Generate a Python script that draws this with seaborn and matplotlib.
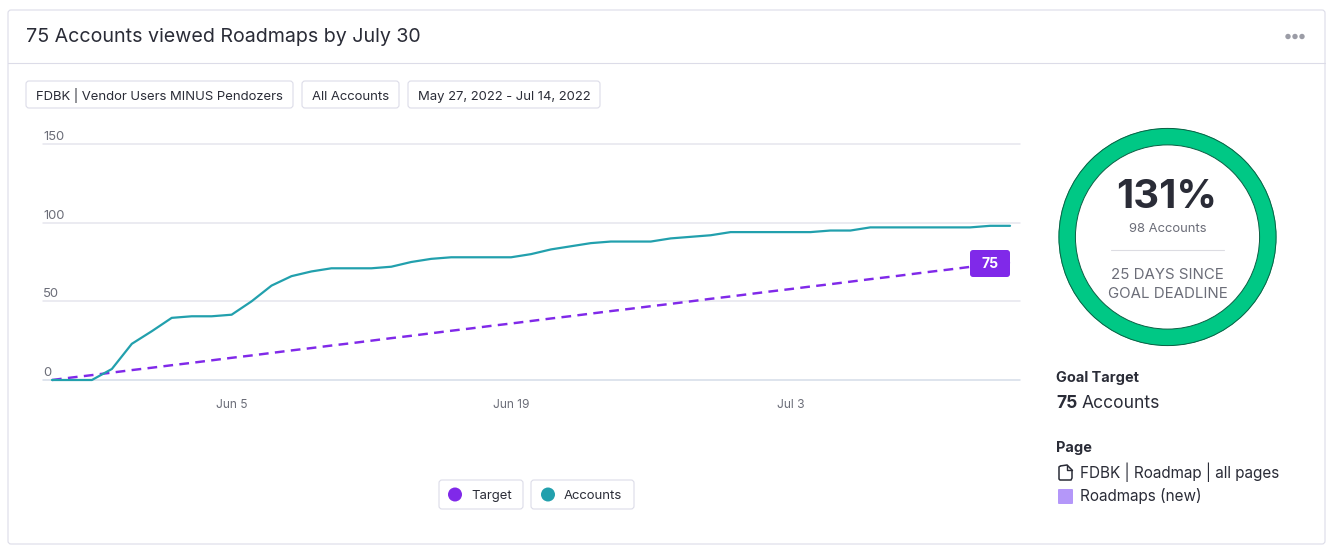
import matplotlib
matplotlib.use("Agg")
import matplotlib.pyplot as plt
import matplotlib.transforms as mtrans
from matplotlib.patches import FancyBboxPatch, Circle, PathPatch
from matplotlib.path import Path
import pandas as pd
import seaborn as sns

dates = pd.date_range("2022-05-27", "2022-07-14", freq="D")
accounts = [0, 0, 0, 7, 23, 31, 39.5, 40.5, 40.5, 41.5,
            50, 60, 66, 69, 71, 71, 71, 72, 75, 77,
            78, 78, 78, 78, 80, 83, 85, 87, 88, 88,
            88, 90, 91, 92, 94, 94, 94, 94, 94, 95,
            95, 97, 97, 97, 97, 97, 97, 98, 98]
target = [0, 1.6, 3.1, 4.7, 6.3, 7.8, 9.4, 10.9, 12.5, 14.1,
          15.6, 17.2, 18.8, 20.3, 21.9, 23.4, 25.0, 26.6, 28.1, 29.7,
          31.3, 32.8, 34.4, 35.9, 37.5, 39.1, 40.6, 42.2, 43.8, 45.3,
          46.9, 48.4, 50.0, 51.6, 53.1, 54.7, 56.3, 57.8, 59.4, 60.9,
          62.5, 64.1, 65.6, 67.2, 68.8, 70.3, 71.9, 73.4, 75.0]
y_ticks = [0, 50, 100, 150]
x_tick_dates = ["2022-06-05", "2022-06-19", "2022-07-03"]
x_tick_labels = ["Jun 5", "Jun 19", "Jul 3"]
goal_badge = 75
ring_share = [100]

W, H = 1339, 557
DARK = "#2a2c37"
GREY = "#6b6d78"
BORDER = "#dcdce8"
PURPLE = "#8029e9"
TEAL = "#22a0ad"
GREEN = "#00c885"

sns.set_theme(style="white")
plt.rcParams["font.family"] = ["Inter", "DejaVu Sans"]


def px(v):
    return v * 0.72


fig = plt.figure(figsize=(W / 100, H / 100), dpi=100, facecolor="white")

bg = fig.add_axes([0, 0, 1, 1], zorder=0)
bg.set_xlim(0, W)
bg.set_ylim(H, 0)
bg.axis("off")


def pill(x0, y0, x1, y1, ec=BORDER, fc="white", r=3, lw=0.8, zorder=1):
    bg.add_patch(FancyBboxPatch((x0 + r, y0 + r), x1 - x0 - 2 * r, y1 - y0 - 2 * r,
                                boxstyle=f"round,pad={r},rounding_size={r}",
                                fc=fc, ec=ec, lw=lw, zorder=zorder))


pill(8, 10, 1325, 544)
bg.plot([8, 1325], [62.5, 62.5], color=BORDER, lw=0.8)
bg.text(26, 37.5, "75 Accounts viewed Roadmaps by July 30", fontsize=px(19.65), color=DARK,
        va="center", ha="left")
for cx in (1288, 1295, 1302):
    bg.add_patch(Circle((cx, 36.5), 2.7, fc="#9b9ca6", ec="none"))

for x0, x1, label in [(26, 293, "FDBK | Vendor Users MINUS Pendozers"),
                      (302, 399, "All Accounts"),
                      (408, 600, "May 27, 2022 - Jul 14, 2022")]:
    pill(x0, 81, x1, 108)
    bg.text((x0 + x1) / 2, 100, label, fontsize=px(13.1), color=DARK, va="baseline", ha="center")

# legend pills
pill(439, 480, 523, 509)
bg.add_patch(Circle((455, 494.5), 7, fc=PURPLE, ec="none", zorder=2))
bg.text(471, 499, "Target", fontsize=px(13.1), color=DARK, va="baseline")
pill(531, 480, 634, 509)
bg.add_patch(Circle((548, 494.5), 7, fc=TEAL, ec="none", zorder=2))
bg.text(564, 499, "Accounts", fontsize=px(13.1), color=DARK, va="baseline")

# line chart
ax = fig.add_axes([43 / W, 1 - 380 / H, (1020 - 43) / W, (380 - 144) / H], zorder=1)
ax.patch.set_alpha(0)
df = pd.DataFrame({"date": dates, "Target": target, "Accounts": accounts})
sns.lineplot(data=df, x="date", y="Target", ax=ax, color=PURPLE, lw=1.75,
             dashes=(4.0, 2.6), dash_capstyle="butt", zorder=3, clip_on=False)
sns.lineplot(data=df, x="date", y="Accounts", ax=ax, color=TEAL, lw=1.6, zorder=4, clip_on=False)
ax.set_ylim(0, 150)
ax.set_xlim(dates[0] - pd.Timedelta(hours=10.8), dates[-1] + pd.Timedelta(hours=12))
ax.set_xlabel("")
ax.set_ylabel("")
sns.despine(ax=ax, left=True, bottom=True, top=True, right=True)
ax.set_yticks(y_ticks)
ax.set_yticklabels([str(v) for v in y_ticks])
ax.set_xticks(pd.to_datetime(x_tick_dates))
ax.set_xticklabels(x_tick_labels)
ax.tick_params(axis="both", length=0, labelcolor=GREY)
ax.tick_params(axis="x", pad=14, labelsize=px(12))
ax.tick_params(axis="y", pad=0, labelsize=px(13))
ax.grid(True, axis="y", color="#e6e6ee", lw=1.1)
ax.grid(False, axis="x")
for gl in ax.get_ygridlines():
    gl.set_clip_on(False)
ax.get_ygridlines()[0].set_color("#d5dce8")
ax.set_axisbelow(True)
shift = mtrans.ScaledTranslation(0, 1 / 100, fig.dpi_scale_trans)
for lab in ax.get_yticklabels():
    lab.set_ha("left")
    lab.set_va("bottom")
    lab.set_transform(lab.get_transform() + shift)

# ring
cx, cy, R, r_in = 1167.5, 237, 110, 93
ring = fig.add_axes([(cx - R) / W, 1 - (cy + R) / H, 2 * R / W, 2 * R / H], zorder=2)
ring.pie(ring_share, radius=1, colors=[GREEN], startangle=90,
         wedgeprops=dict(width=(R - r_in) / R, lw=0))
ring.set_xlim(-1.01, 1.01)
ring.set_ylim(-1.01, 1.01)
ring.add_patch(Circle((0, 0), 0.997, fill=False, ec="#0c5f44", lw=0.7))
ring.add_patch(Circle((0, 0), r_in / R, fill=False, ec="#0c5f44", lw=0.7))

top = fig.add_axes([0, 0, 1, 1], zorder=3)
top.patch.set_alpha(0)
top.set_xlim(0, W)
top.set_ylim(H, 0)
top.axis("off")

# target badge
top.add_patch(FancyBboxPatch((973, 253), 34, 21, boxstyle="round,pad=3,rounding_size=3",
                             fc=PURPLE, ec="none"))
top.text(990, 264, str(goal_badge), fontsize=px(14), fontweight="bold", color="white",
         ha="center", va="center")

top.text(cx - 1, 198, "131%", fontsize=px(40), fontweight="bold", color=DARK, ha="center", va="center")
top.text(cx, 228.5, "98 Accounts", fontsize=px(13), color=GREY, ha="center", va="center")
top.plot([1111, 1224], [249.5, 249.5], color="#dcdce2", lw=0.8)
top.text(cx, 275, "25 DAYS SINCE", fontsize=px(15), color=GREY, ha="center", va="center")
top.text(cx, 294, "GOAL DEADLINE", fontsize=px(15), color=GREY, ha="center", va="center")

# side text
top.text(1056, 378, "Goal Target", fontsize=px(14.5), fontweight="bold", color=DARK, va="center")
top.text(1056, 404, "75", fontsize=px(17.5), fontweight="bold", color=DARK, va="center")
top.text(1082, 404, "Accounts", fontsize=px(17.5), color=DARK, va="center")
top.text(1056, 448, "Page", fontsize=px(14.5), fontweight="bold", color=DARK, va="center")
top.text(1080, 472, "FDBK | Roadmap | all pages", fontsize=px(15.3), color=DARK, va="center")
top.text(1080, 496, "Roadmaps (new)", fontsize=px(15.3), color=DARK, va="center")
icon = Path([(1060, 466), (1067, 465), (1072, 470), (1072, 478), (1071, 480), (1060, 480),
             (1059, 479), (1059, 467), (1060, 466)], closed=False)
top.add_patch(PathPatch(icon, fc="white", ec=DARK, lw=1.1))
top.plot([1067, 1067, 1072], [465, 470, 470], color=DARK, lw=1.0)
top.add_patch(FancyBboxPatch((1059, 490), 13, 13, boxstyle="round,pad=1,rounding_size=1",
                             fc="#b497f9", ec="none"))

fig.savefig("out.png", dpi=100)
